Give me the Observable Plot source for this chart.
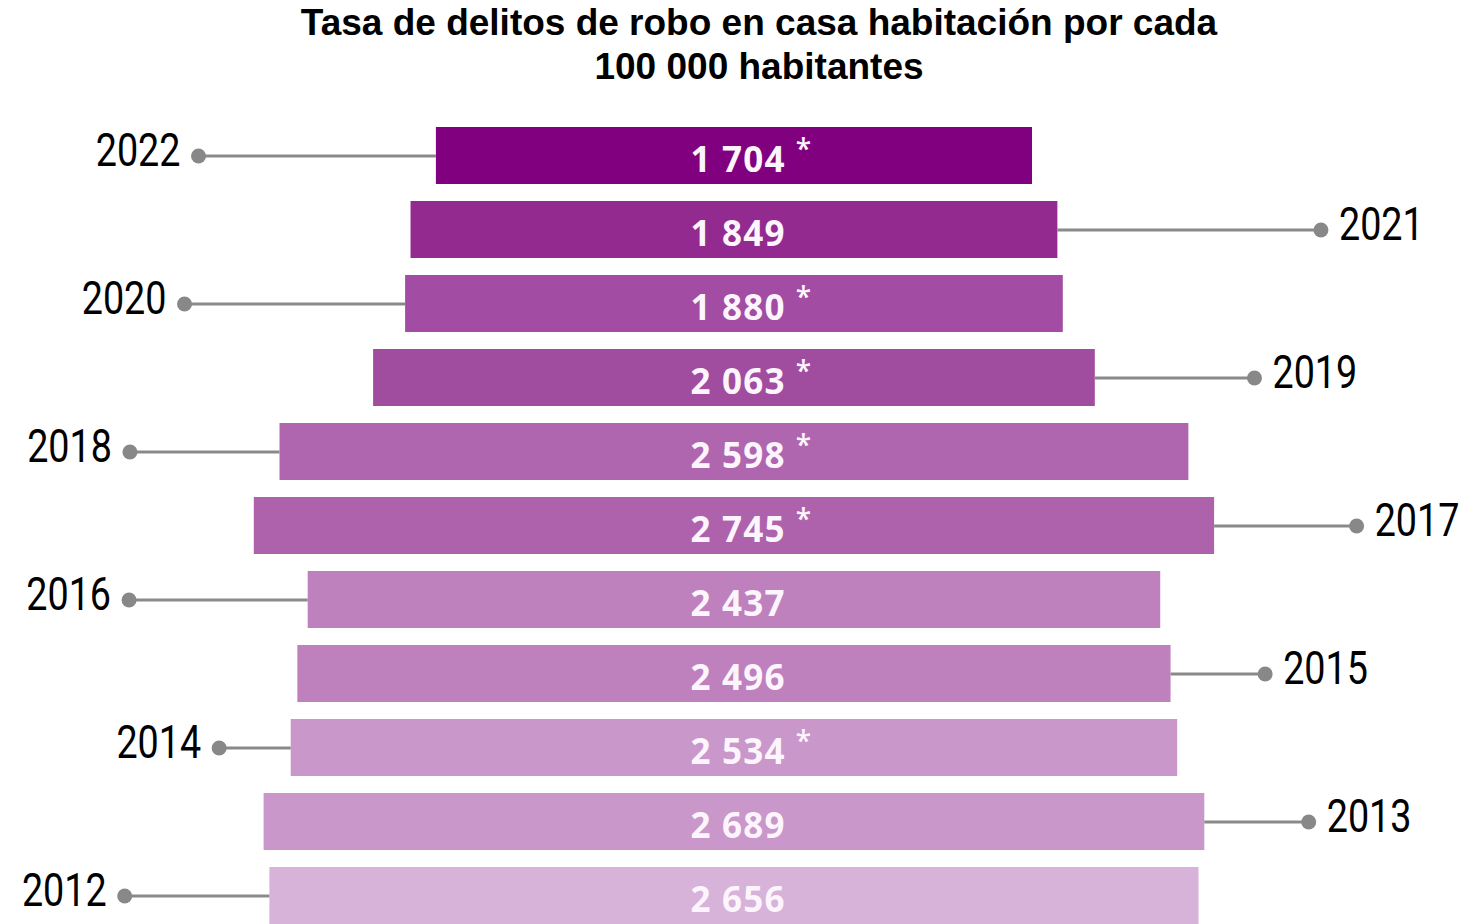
<!DOCTYPE html>
<html>
<head>
<meta charset="utf-8">
<script src="https://cdn.jsdelivr.net/npm/d3@7"></script>
<script src="https://cdn.jsdelivr.net/npm/@observablehq/plot@0.6"></script>
<style>
  html, body { margin: 0; padding: 0; background: #fff; }
  #title {
    height: 100px; box-sizing: border-box;
    padding-left: 48px; padding-top: 1px;
    text-align: center;
    font-family: "Liberation Sans", Arial, sans-serif;
    font-weight: bold; font-size: 37px; line-height: 44px; color: #000;
  }
  #chart svg { display: block; }
  .vals text { letter-spacing: 1.2px; }
</style>
</head>
<body>
<div id="title">Tasa de delitos de robo en casa habitación por cada<br>100 000 habitantes</div>
<div id="chart"></div>
<script>
// ---- data ----
const years = ["2022","2021","2020","2019","2018","2017","2016","2015","2014","2013","2012"];
const values = [1704, 1849, 1880, 2063, 2598, 2745, 2437, 2496, 2534, 2689, 2656];
const marked = [true, false, true, true, true, true, false, false, true, false, false]; // asterisk
const sides = ["left","right","left","right","left","right","left","right","left","right","left"];
// leader length beyond bar end (in value units)
const leaders = [680, 752, 632, 455, 429, 406, 512, 269, 206, 297, 415];
const colors = ["#800080","#922a90","#a24ca3","#a04c9f","#b066ae","#ae62ac","#bf80be","#bf80be","#c997c9","#c997c9","#d7b2d9"];

const data = years.map((y, i) => {
  const s = sides[i] === "left" ? -1 : 1;
  return {
    year: y, value: values[i], star: marked[i], side: sides[i], color: colors[i],
    x1: -values[i] / 2, x2: values[i] / 2,
    edge: s * values[i] / 2,
    tip: s * (values[i] / 2 + leaders[i]),
    label: d3.format(",")(values[i]).replace(/,/g, " ")
  };
});
const left = data.filter(d => d.side === "left");
const right = data.filter(d => d.side === "right");
const yearFont = "Roboto, 'DejaVu Sans', sans-serif";

const chart = Plot.plot({
  width: 1470,
  height: 824,
  marginTop: 27, marginBottom: 0, marginLeft: 0, marginRight: 0,
  x: { domain: [-2098, 2104], axis: null },
  y: { domain: years, paddingInner: 0.23, paddingOuter: 0, axis: null },
  color: { type: "identity" },
  marks: [
    Plot.barX(data, { y: "year", x1: "x1", x2: "x2", fill: "color" }),
    Plot.ruleY(data, { y: "year", x1: "edge", x2: "tip", stroke: "#8a8a8a", strokeWidth: 3.2 }),
    Plot.dot(data, { y: "year", x: "tip", r: 7.5, fill: "#888888", stroke: "none" }),
    Plot.text(left, { y: "year", x: "tip", text: "year", textAnchor: "end", dx: -18, dy: -5,
      fontSize: 46, fontWeight: 400, fontFamily: yearFont, fill: "#000", className: "yrs" }),
    Plot.text(right, { y: "year", x: "tip", text: "year", textAnchor: "start", dx: 18, dy: -5,
      fontSize: 46, fontWeight: 400, fontFamily: yearFont, fill: "#000", className: "yrs" }),
    Plot.text(data, { y: "year", x: 0, text: "label", textAnchor: "start", dx: -44, dy: 5,
      fontSize: 35, fontWeight: 700, fontFamily: "'Open Sans', sans-serif", fill: "#fdf5fd", className: "vals" }),
    Plot.text(data.filter(d => d.star), { y: "year", x: 0, text: () => "*", textAnchor: "middle", dx: 69, dy: -6,
      fontSize: 28, fontWeight: 600, fontFamily: "'Open Sans', sans-serif", fill: "#fdf5fd" })
  ]
});
// condense the year labels horizontally (narrow typeface look)
d3.select(chart).selectAll(".yrs text").each(function () {
  const t = this.getAttribute("transform") || "";
  this.setAttribute("transform", t + " scale(0.82,1)");
});
document.getElementById("chart").appendChild(chart);
</script>
</body>
</html>
